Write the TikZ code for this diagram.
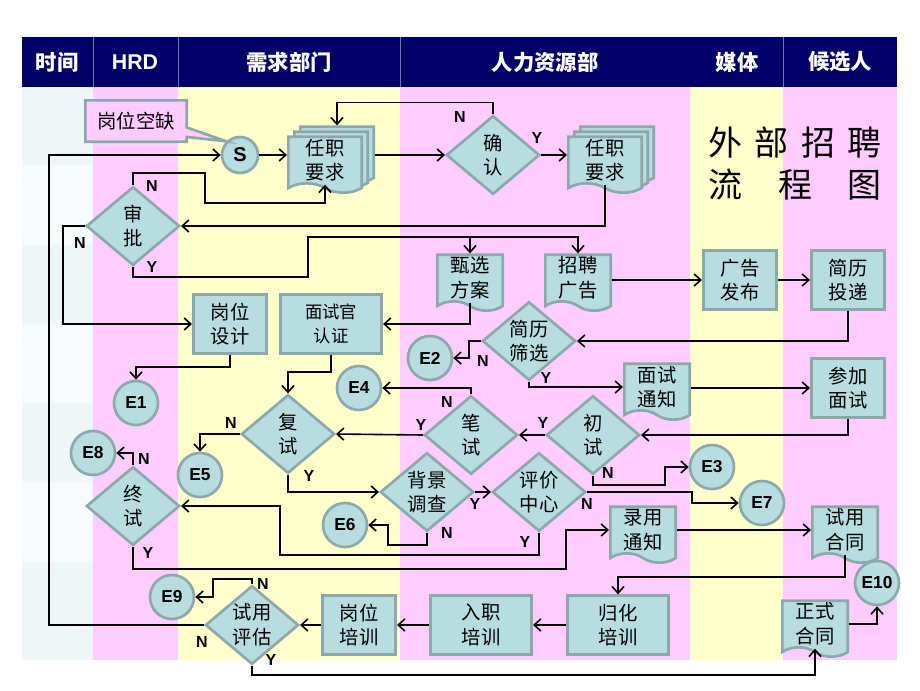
\documentclass[tikz,border=0pt]{standalone}
\usepackage{fontspec}
\setmainfont{Noto Sans CJK SC}
\newfontfamily\labfont{Liberation Sans}
\usepackage{tikz}
\usetikzlibrary{shapes.geometric,shapes.symbols,shapes.callouts,shadows,arrows.meta,calc,backgrounds}

\definecolor{navy}{RGB}{0,0,102}
\definecolor{lanepink}{RGB}{255,204,255}
\definecolor{laneyel}{RGB}{255,255,204}
\definecolor{timeA}{RGB}{238,246,248}
\definecolor{timeB}{RGB}{246,250,251}
\definecolor{boxfill}{RGB}{183,221,224}
\definecolor{boxline}{RGB}{140,168,170}

\newcommand{\boxtxt}{\fontsize{14.5}{18.5}\selectfont}
\newcommand{\yntxt}{\labfont\bfseries\fontsize{12}{12}\selectfont}

\tikzset{
  box/.style={draw=boxline, fill=boxfill, line width=2pt, inner sep=0pt, align=center, font=\boxtxt}
}
\tikzset{
  procbox/.style={box, rectangle, minimum width=55pt, minimum height=44pt}
}
\tikzset{
  predef/.style={box, rectangle, minimum width=76pt, minimum height=44pt,
    append after command={\pgfextra{
      \draw[boxline, line width=2pt] ([xshift=9.75pt]\tikzlastnode.north west) -- ([xshift=9.75pt]\tikzlastnode.south west);
      \draw[boxline, line width=2pt] ([xshift=-9.75pt]\tikzlastnode.north east) -- ([xshift=-9.75pt]\tikzlastnode.south east);
    }}}
}
\tikzset{
  docbox/.style={box, tape, tape bend top=none, tape bend bottom=out and in, tape bend height=7pt,
    minimum width=49pt, minimum height=42pt}
}
\tikzset{
  multidoc/.style={docbox, minimum width=55pt, double copy shadow={shadow xshift=4.5pt, shadow yshift=3.75pt}}
}
\tikzset{
  decision/.style={box, diamond, aspect=1.2, minimum width=70pt, minimum height=59pt}
}
\tikzset{
  endpt/.style={circle, draw=boxline, fill=boxfill, line width=2pt, minimum size=33pt, inner sep=0pt,
    font=\labfont\bfseries\fontsize{13}{13}\selectfont}
}
\tikzset{
  yn/.style={font=\yntxt, inner sep=0pt},
  flow/.style={line width=1.2pt, -{Straight Barb[length=5pt,width=9pt]}},
  lanehead/.style={text=white, font=\bfseries\fontsize{16}{16}\selectfont}
}

\begin{document}
\begin{tikzpicture}[x=0.75pt, y=-0.75pt]
  \useasboundingbox (0,0) rectangle (920,690);

  % lanes
  \fill[timeA] (22,87) rectangle (93,660);
  \foreach \ya/\yb in {165/245, 324/403, 482/562}
    \fill[timeB] (22,\ya) rectangle (93,\yb);
  \fill[lanepink] (93,87) rectangle (178,660);
  \fill[laneyel] (178,87) rectangle (400,660);
  \fill[lanepink] (400,87) rectangle (690,660);
  \fill[laneyel] (690,87) rectangle (783,660);
  \fill[lanepink] (783,87) rectangle (897,660);
  \fill[navy] (22,37) rectangle (897,87);
  \foreach \x in {93,178,400,783}
    \draw[navy!55!white, line width=0.6pt] (\x,37) -- (\x,87);

  \node[lanehead] (hTime) at (57,62) {时间};
  \node[lanehead, font=\labfont\bfseries\fontsize{16}{16}\selectfont] (hHrd) at (135,62) {HRD};
  \node[lanehead] (hDept) at (289,62) {需求部门};
  \node[lanehead] (hHr) at (545,62) {人力资源部};
  \node[lanehead] (hMedia) at (737,62) {媒体};
  \node[lanehead] (hCand) at (840,62) {候选人};

  \node[font=\fontsize{25.5}{31.5}\selectfont, align=center, inner sep=0pt] (title) at (795,164)
    {\makebox[130pt]{外\hfill 部\hfill 招\hfill 聘}\\ \makebox[130pt]{流\hfill 程\hfill 图}};

  % nodes
  \node[endpt, minimum size=27pt, font=\labfont\bfseries\fontsize{15}{15}\selectfont] (S) at (240,155) {S};
  \node[box, rectangle callout, fill=lanepink, minimum width=76pt, minimum height=31pt,
        callout absolute pointer={(S.north west)}] (gap) at (136,121) {岗位空缺};
  \node[multidoc] (req1) at (325,160) {任职\\要求};
  \node[decision] (qr) at (493,155) {确\\认};
  \node[multidoc] (req2) at (605,160) {任职\\要求};
  \node[decision] (sp) at (133,226) {审\\批};
  \node[docbox] (zx) at (470,278) {甄选\\方案};
  \node[docbox] (zp) at (578,278) {招聘\\广告};
  \node[procbox] (gf) at (740,280) {广告\\发布};
  \node[procbox] (jt) at (848,280) {简历\\投递};
  \node[procbox] (gw) at (230,324) {岗位\\设计};
  \node[predef, font=\fontsize{13}{18.5}\selectfont] (ms) at (331,324) {面试官\\认证};
  \node[decision] (sx) at (529,341) {简历\\筛选};
  \node[docbox] (mt) at (657,387) {面试\\通知};
  \node[procbox] (cm) at (848,388) {参加\\面试};
  \node[decision] (fs) at (288,434) {复\\试};
  \node[decision] (bs) at (471,435) {笔\\试};
  \node[decision] (cs) at (593,435) {初\\试};
  \node[decision] (bj) at (427,492) {背景\\调查};
  \node[decision] (pz) at (539,492) {评价\\中心};
  \node[decision] (zs) at (133,506) {终\\试};
  \node[docbox] (ly) at (643,530) {录用\\通知};
  \node[docbox] (sh) at (845,530) {试用\\合同};
  \node[decision] (sy) at (252,625) {试用\\评估};
  \node[procbox] (gp) at (359,625) {岗位\\培训};
  \node[predef] (rz) at (481,625) {入职\\培训};
  \node[predef] (gh) at (618,625) {归化\\培训};
  \node[docbox] (zh) at (815,624) {正式\\合同};

  \node[endpt] (e1) at (136,403) {E1};
  \node[endpt] (e2) at (430,358) {E2};
  \node[endpt] (e3) at (712,467) {E3};
  \node[endpt] (e4) at (359,388) {E4};
  \node[endpt] (e5) at (200,475) {E5};
  \node[endpt] (e6) at (345,525) {E6};
  \node[endpt] (e7) at (762,503) {E7};
  \node[endpt] (e8) at (93,453) {E8};
  \node[endpt] (e9) at (172,597) {E9};
  \node[endpt] (e10) at (877,583) {E10};

  % connectors
  \coordinate (jn) at (308,237);
  \draw[flow] (S.east) -- (S.east -| req1.west);
  \draw[flow] ($(qr.west -| req1.east)+(12,0)$) -- (qr.west);
  \draw[flow] (qr.north) -- ++(0,-12) -| ($(req1.north)+(12,-10)$);
  \draw[flow] (qr.east) -- (qr.east -| req2.west);
  \draw[flow] (req2.south) |- (sp.east);
  \draw[flow] (sp.north) |- (205,173) -- (205,203) -| (req1.south);
  \draw[flow] (sp.west) -- (63,226) |- (gw.west);
  \draw[flow] (sp.south) |- (308,277) -- (jn) -| (zp.north);
  \draw[flow] (jn) -| (zx.north);
  \draw[flow] (zx.south) |- (ms.east);
  \draw[flow] (zp.east |- gf.west) -- (gf.west);
  \draw[flow] (gf.east) -- (jt.west);
  \draw[flow] (jt.south) |- (sx.east);
  \draw[flow] (sx.west) -- (469,341) |- (e2.east);
  \draw[flow] (sx.south) |- (mt.west);
  \draw[flow] (mt.east |- cm.west) -- (cm.west);
  \draw[flow] (cm.south) |- (cs.east);
  \draw[flow] (gw.south) -- (230,367) -| (e1.north);
  \draw[flow] (ms.south) -- (331,372) -| (fs.north);
  \draw[flow] (cs.west) -- (bs.east);
  \draw[flow] (cs.south) |- (665,485) |- (e3.west);
  \draw[flow] (bs.north) |- (e4.east);
  \draw[flow] (bs.west) -- (fs.east);
  \draw[flow] (fs.west) -| (e5.north);
  \draw[flow] (fs.south) |- (bj.west);
  \draw[flow] (bj.east) -- (pz.west);
  \draw[flow] (bj.south) |- (388,545) |- (e6.east);
  \draw[flow] (pz.east) -- (692,492) |- (e7.west);
  \draw[flow] (pz.south) |- (280,555) |- (zs.east);
  \draw[flow] (zs.north) |- (e8.east);
  \draw[flow] (zs.south) |- (566,569) |- (ly.west);
  \draw[flow] (ly.east) -- (ly.east -| sh.west);
  \draw[flow] (sh.south) -- (845,577) -| (gh.north);
  \draw[flow] (gh.west) -- (rz.east);
  \draw[flow] (rz.west) -- (gp.east);
  \draw[flow] (gp.west) -- (sy.east);
  \draw[flow] (sy.north) |- (213,579) |- (e9.east);
  \draw[flow] (sy.south) -- (252,675) -| (zh.south);
  \draw[flow] (zh.east) -| (e10.south);
  \draw[flow] (sy.west) -- (49,625) |- (S.west);

  % Y / N
  \node[yn] (qrN) at (460,117) {N};
  \node[yn] (qrY) at (537,138) {Y};
  \node[yn] (spN1) at (152,186) {N};
  \node[yn] (spN2) at (80,243) {N};
  \node[yn] (spY) at (152,267) {Y};
  \node[yn] (sxN) at (483,361) {N};
  \node[yn] (sxY) at (546,378) {Y};
  \node[yn] (bsN) at (447,402) {N};
  \node[yn] (bsY) at (421,425) {Y};
  \node[yn] (csY) at (543,423) {Y};
  \node[yn] (csN) at (608,473) {N};
  \node[yn] (fsN) at (231,423) {N};
  \node[yn] (fsY) at (309,476) {Y};
  \node[yn] (bjY) at (475,504) {Y};
  \node[yn] (bjN) at (447,533) {N};
  \node[yn] (pzN) at (587,504) {N};
  \node[yn] (pzY) at (525,542) {Y};
  \node[yn] (zsN) at (144,459) {N};
  \node[yn] (zsY) at (148,553) {Y};
  \node[yn] (syN1) at (263,584) {N};
  \node[yn] (syN2) at (202,642) {N};
  \node[yn] (syY) at (271,660) {Y};
\end{tikzpicture}
\end{document}
